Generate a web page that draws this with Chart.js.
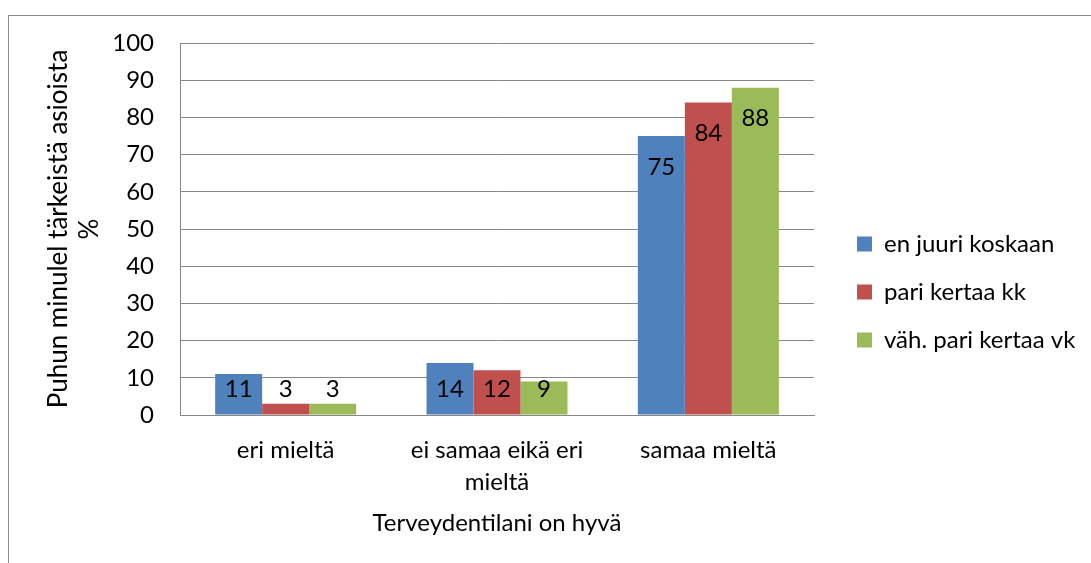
<!DOCTYPE html>
<html>
<head>
<meta charset="utf-8">
<script src="https://cdn.jsdelivr.net/npm/chart.js@4/dist/chart.umd.min.js"></script>
<style>
  html, body { margin: 0; padding: 0; background: #fff; overflow: hidden; }
  #frame {
    position: absolute; left: 8px; top: 15px; width: 1100px; height: 600px;
    border: 1px solid #8a8a8a; box-sizing: border-box;
  }
  #wrap { position: absolute; left: 9px; top: 16px; width: 1082px; height: 547px; }
</style>
</head>
<body>
<div id="frame"></div>
<div id="wrap"><canvas id="chart" width="1082" height="547"></canvas></div>
<script>
// ---- data ----
const categories = ['eri mieltä', ['ei samaa eikä eri', 'mieltä'], 'samaa mieltä'];
const seriesNames = ['en juuri koskaan', 'pari kertaa kk', 'väh. pari kertaa vk'];
const seriesColors = ['#4F81BD', '#C0504D', '#9BBB59'];
const enJuuriKoskaan = [11, 14, 75];
const pariKertaaKk = [3, 12, 84];
const vahPariKertaaVk = [3, 9, 88];
const yTicks = { min: 0, max: 100, step: 10 };

const FONT = 'Lato, Calibri, Carlito, sans-serif';
const FS = 24;
const GRID = '#878787';

// bar value labels, Excel style "inside end"
const valueLabels = {
  id: 'valueLabels',
  afterDatasetsDraw(chart) {
    const ctx = chart.ctx;
    ctx.save();
    ctx.font = FS + 'px ' + FONT;
    ctx.fillStyle = '#000';
    ctx.textAlign = 'center';
    ctx.textBaseline = 'middle';
    chart.data.datasets.forEach((ds, i) => {
      chart.getDatasetMeta(i).data.forEach((bar, j) => {
        const y = Math.min(bar.y + 31, bar.base - 25);
        ctx.fillText(String(ds.data[j]), bar.x, y);
      });
    });
    ctx.restore();
  }
};

// put the legend where Excel had it, a bit away from the plot
const legendPlace = {
  id: 'legendPlace',
  afterLayout(chart) {
    const lg = chart.legend;
    lg.left = 824;
    lg.right = chart.width;
    lg.width = lg.right - lg.left;
  }
};

const series = [enJuuriKoskaan, pariKertaaKk, vahPariKertaaVk];

new Chart(document.getElementById('chart'), {
  type: 'bar',
  data: {
    labels: categories,
    datasets: series.map((d, i) => ({
      label: seriesNames[i],
      data: d,
      backgroundColor: seriesColors[i],
      borderWidth: 0,
      categoryPercentage: 0.667,
      barPercentage: 1.0,
    }))
  },
  options: {
    responsive: false,
    animation: false,
    layout: { padding: { top: 27, right: 77, bottom: 22, left: 0 } },
    plugins: {
      tooltip: { enabled: false },
      legend: {
        position: 'right',
        align: 'center',
        maxWidth: 200,
        labels: {
          color: '#000',
          font: { family: FONT, size: FS },
          boxWidth: 15,
          boxHeight: 15,
          padding: 24,
        }
      }
    },
    scales: {
      x: {
        grid: { display: false, drawTicks: false },
        border: { display: true, color: GRID, width: 1 },
        ticks: {
          color: '#000', padding: 19, maxRotation: 0, autoSkip: false,
          font: { family: FONT, size: FS, lineHeight: 32 / FS }
        },
        title: {
          display: true, text: 'Terveydentilani on hyvä', color: '#000',
          font: { family: FONT, size: FS, lineHeight: 1.2 },
          padding: { top: 0, bottom: 3.6 }
        },
        afterFit: s => { s.height = 126; }
      },
      y: {
        min: yTicks.min, max: yTicks.max,
        grid: { color: GRID, lineWidth: 1, drawTicks: false },
        border: { display: true, color: GRID, width: 1 },
        ticks: {
          stepSize: yTicks.step, color: '#000', padding: 26,
          font: { family: FONT, size: FS, lineHeight: 1.2 }
        },
        title: {
          display: true, text: ['Puhun minulel tärkeistä asioista', '%'], color: '#000',
          font: { family: FONT, size: 26, lineHeight: 31 / 26 },
          padding: { top: 34.5, bottom: 0 }
        },
        afterFit: s => { s.width = 171; s.paddingTop = 0; s.paddingBottom = 0; }
      }
    }
  },
  plugins: [valueLabels, legendPlace]
});
</script>
</body>
</html>
